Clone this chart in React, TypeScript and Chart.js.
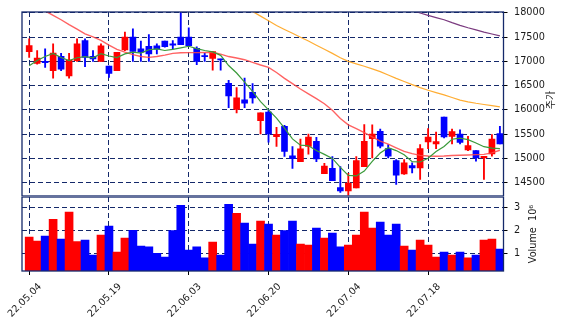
import React, { useEffect, useRef } from "react";
import { Chart, registerables } from "chart.js";
Chart.register(...registerables);

const dates = [
  "22.05.04", "22.05.06", "22.05.09", "22.05.10", "22.05.11", "22.05.12", "22.05.13", "22.05.16", "22.05.17", "22.05.18",
  "22.05.19", "22.05.20", "22.05.23", "22.05.24", "22.05.25", "22.05.26", "22.05.27", "22.05.30", "22.05.31", "22.06.02",
  "22.06.03", "22.06.07", "22.06.08", "22.06.09", "22.06.10", "22.06.13", "22.06.14", "22.06.15", "22.06.16", "22.06.17",
  "22.06.20", "22.06.21", "22.06.22", "22.06.23", "22.06.24", "22.06.27", "22.06.28", "22.06.29", "22.06.30", "22.07.01",
  "22.07.04", "22.07.05", "22.07.06", "22.07.07", "22.07.08", "22.07.11", "22.07.12", "22.07.13", "22.07.14", "22.07.15",
  "22.07.18", "22.07.19", "22.07.20", "22.07.21", "22.07.22", "22.07.25", "22.07.26", "22.07.27", "22.07.28", "22.07.29",
];

const opens = [
  17201, 16958, 17000, 16806, 17104, 16701, 17014, 17431, 17104, 17000,
  16903, 16806, 17236, 17500, 17257, 17313, 17319, 17417, 17361, 17500,
  17500, 17271, 17118, 17063, 17050, 16549, 16007, 16208, 16361, 15778,
  15951, 15444, 15660, 15049, 14931, 15243, 15347, 14681, 14792, 14396,
  14326, 14389, 14826, 15404, 15555, 15199, 14952, 14678, 14849, 14801,
  15336, 15295, 15849, 15452, 15500, 15171, 15158, 15007, 15089, 15507,
];
const highs = [
  17465, 17222, 17257, 17361, 17167, 17167, 17465, 17465, 17222, 17361,
  16903, 17188, 17604, 17674, 17417, 17556, 17361, 17417, 17431, 18100,
  17694, 17300, 17174, 17201, 17050, 16611, 16458, 16653, 16542, 15938,
  16007, 15639, 15681, 15243, 15396, 15500, 15431, 14896, 15035, 14826,
  14688, 15035, 15694, 15692, 15603, 15281, 14973, 14973, 14904, 15281,
  15610, 15541, 15849, 15603, 15589, 15452, 15158, 15041, 15486, 15658,
];
const lows = [
  17083, 16944, 16875, 16653, 16806, 16653, 17000, 16889, 17000, 17000,
  16667, 16806, 17222, 17000, 17000, 17000, 17153, 17292, 17257, 17347,
  17326, 16930, 17000, 16819, 16819, 16042, 15938, 16042, 16139, 15500,
  15333, 15243, 15035, 14792, 14931, 15083, 14931, 14681, 14535, 14292,
  14236, 14389, 14826, 15007, 15212, 15007, 14459, 14664, 14699, 14562,
  15199, 15199, 15418, 15295, 15295, 15158, 14938, 14562, 15041, 15295,
];
const closes = [
  17326, 17069, 16972, 17174, 16840, 17028, 17361, 17083, 17049, 17319,
  16750, 17188, 17500, 17208, 17188, 17153, 17250, 17306, 17333, 17347,
  17326, 17000, 17097, 17201, 17030, 16285, 16250, 16139, 16243, 15938,
  15500, 15493, 15139, 14993, 15194, 15437, 14986, 14840, 14535, 14326,
  14486, 14951, 15347, 15500, 15247, 15041, 14651, 14904, 14801, 15199,
  15438, 15343, 15438, 15548, 15329, 15260, 15007, 15041, 15397, 15295,
];
// volume in millions
const volumes = [
  1.71, 1.54, 1.75, 2.49, 1.62, 2.8, 1.51, 1.58, 0.93, 1.8,
  2.19, 1.06, 1.67, 2.01, 1.32, 1.28, 1.0, 0.84, 1.99, 3.1,
  1.14, 1.28, 0.8, 1.49, 0.93, 3.14, 2.75, 2.32, 1.41, 2.41,
  2.28, 1.8, 1.99, 2.41, 1.41, 1.36, 2.1, 1.67, 1.88, 1.28,
  1.36, 1.8, 2.8, 2.1, 2.36, 1.8, 2.28, 1.32, 1.14, 1.58,
  1.36, 0.84, 1.06, 0.93, 1.06, 0.8, 0.93, 1.58, 1.62, 1.19,
];
const ma5 = [
  16910, 17020, 17100, 17165, 17080, 17017, 17075, 17097, 17075, 17160,
  17112, 17080, 17155, 17190, 17170, 17240, 17258, 17225, 17250, 17280,
  17312, 17265, 17225, 17195, 17125, 16915, 16760, 16570, 16380, 16170,
  16000, 15830, 15620, 15400, 15270, 15258, 15160, 15080, 14995, 14810,
  14645, 14635, 14735, 14935, 15108, 15216, 15158, 15070, 14930, 14922,
  15000, 15138, 15244, 15392, 15417, 15385, 15316, 15238, 15208, 15200,
];
const ma20 = [
  18220, 18130, 18042, 17951, 17860, 17760, 17665, 17570, 17505, 17435,
  17335, 17250, 17190, 17139, 17100, 17084, 17100, 17130, 17165, 17178,
  17182, 17182, 17185, 17188, 17150, 17100, 17070, 17035, 16980, 16925,
  16875, 16770, 16650, 16540, 16430, 16330, 16230, 16125, 15990, 15820,
  15690, 15610, 15530, 15440, 15355, 15290, 15215, 15140, 15095, 15060,
  15045, 15040, 15045, 15055, 15062, 15068, 15075, 15080, 15110, 15165,
];
const ma60 = [
  null, null, null, null, null, null, null, null, null, null,
  null, null, null, null, null, null, null, null, null, null,
  null, null, null, null, null, null, 18210, 18120, 18030, 17935,
  17840, 17743, 17660, 17580, 17500, 17420, 17335, 17250, 17165, 17075,
  17000, 16950, 16900, 16845, 16788, 16720, 16650, 16585, 16520, 16459,
  16405, 16355, 16308, 16255, 16200, 16165, 16135, 16110, 16085, 16060,
];
const ma120 = [
  null, null, null, null, null, null, null, null, null, null,
  null, null, null, null, null, null, null, null, null, null,
  null, null, null, null, null, null, null, null, null, null,
  null, null, null, null, null, null, null, null, null, null,
  null, null, null, null, null, null, 18150, 18100, 18050, 18000,
  17950, 17905, 17860, 17800, 17745, 17695, 17650, 17605, 17565, 17528,
];
const priceTicks = [14500, 15000, 15500, 16000, 16500, 17000, 17500, 18000];
const volumeTicks = [1, 2, 3];
const dateTickIdx = [0, 10, 20, 30, 40, 50];

const UP = "#ff0000";
const DOWN = "#0000ff";
const GRID = "#14296a";
const TEXT = "#1a1a1a";
const FONT = "DejaVu Sans";

const X_MIN = -0.9;
const X_MAX = 59.45;
const AXIS_W = 64.5;

const framePlugin = {
  id: "frame",
  afterDraw(chart: any) {
    const { ctx, chartArea: a } = chart;
    ctx.save();
    ctx.strokeStyle = GRID;
    ctx.lineWidth = 1.3;
    ctx.strokeRect(a.left, a.top, a.right - a.left, a.bottom - a.top);
    ctx.restore();
  },
};

function titlePlugin(id: string, text: string, cx: number, cy: number, font: string) {
  return {
    id,
    afterDraw(chart: any) {
      const ctx = chart.ctx;
      ctx.save();
      ctx.translate(cx, cy);
      ctx.rotate(-Math.PI / 2);
      ctx.font = font;
      ctx.fillStyle = TEXT;
      ctx.textAlign = "center";
      ctx.textBaseline = "middle";
      ctx.fillText(text, 0, 0);
      ctx.restore();
    },
  };
}

const fitY = (s: any) => {
  s.width = AXIS_W;
  s.paddingTop = 0;
  s.paddingBottom = 0;
};

export default function App() {
  const priceRef = useRef<HTMLCanvasElement>(null);
  const volRef = useRef<HTMLCanvasElement>(null);

  useEffect(() => {
    const idx = dates.map((_, i) => i);
    const colors = idx.map((i) => (closes[i] >= opens[i] ? UP : DOWN));
    const lineDs = (arr: (number | null)[], color: string, width: number) => ({
      type: "line" as const,
      data: idx.map((i) => ({ x: i, y: arr[i] })),
      borderColor: color,
      borderWidth: width,
      pointRadius: 0,
      tension: 0,
      spanGaps: false,
      clip: 0,
    });

    const tickFont = { family: FONT, size: 9.7 };

    const price = new Chart(priceRef.current as HTMLCanvasElement, {
      type: "bar",
      data: {
        datasets: [
          lineDs(ma5, "#3a9a3a", 1.2),
          lineDs(ma20, "rgba(255,70,70,0.85)", 1.4),
          lineDs(ma60, "#ffad33", 1.2),
          lineDs(ma120, "#7a3a7f", 1.2),
          {
            type: "bar",
            data: idx.map((i) => ({ x: i, y: [opens[i], closes[i]] })),
            backgroundColor: colors,
            barThickness: 6,
            grouped: false,
            minBarLength: 1,
            clip: 0,
          },
          {
            type: "bar",
            data: idx.map((i) => ({ x: i, y: [lows[i], highs[i]] })),
            backgroundColor: colors,
            barThickness: 1.2,
            grouped: false,
            clip: 0,
          },
        ] as any,
      },
      options: {
        responsive: false,
        animation: false,
        devicePixelRatio: 1,
        events: [],
        layout: { padding: { left: 22, top: 12, right: 0, bottom: 0 } },
        plugins: { legend: { display: false }, tooltip: { enabled: false } },
        scales: {
          x: {
            type: "linear",
            min: X_MIN,
            max: X_MAX,
            offset: false,
            afterBuildTicks: (a: any) => {
              a.ticks = dateTickIdx.map((v) => ({ value: v }));
            },
            afterFit: (s: any) => {
              s.height = 0;
              s.paddingLeft = 0;
              s.paddingRight = 0;
            },
            ticks: { display: false },
            grid: { color: GRID, lineWidth: 1, drawTicks: false, offset: false },
            border: { display: false, dash: [5, 3] },
          },
          y: {
            type: "linear",
            position: "right",
            min: 14220,
            max: 18020,
            afterBuildTicks: (a: any) => {
              a.ticks = priceTicks.map((v) => ({ value: v }));
            },
            afterFit: fitY,
            ticks: {
              font: tickFont,
              color: TEXT,
              padding: 6.5,
              callback: (v: any) => String(v),
            },
            grid: { color: GRID, lineWidth: 1, tickLength: 4, tickColor: "#000" },
            border: { display: false, dash: [5, 3] },
          },
        },
      } as any,
      plugins: [framePlugin, titlePlugin("ptitle", "주가", 550, 100, "10px 'Noto Sans CJK KR'")],
    });

    const vol = new Chart(volRef.current as HTMLCanvasElement, {
      type: "bar",
      data: {
        datasets: [
          {
            data: idx.map((i) => ({ x: i, y: volumes[i] })),
            backgroundColor: colors,
            barThickness: 8,
            grouped: false,
            clip: 0,
          },
        ] as any,
      },
      options: {
        responsive: false,
        animation: false,
        devicePixelRatio: 1,
        events: [],
        layout: { padding: { left: 22, top: 1, right: 0, bottom: 0 } },
        plugins: { legend: { display: false }, tooltip: { enabled: false } },
        scales: {
          x: {
            type: "linear",
            min: X_MIN,
            max: X_MAX,
            offset: false,
            afterBuildTicks: (a: any) => {
              a.ticks = dateTickIdx.map((v) => ({ value: v }));
            },
            afterFit: (s: any) => {
              s.height = 57;
              s.paddingLeft = 0;
              s.paddingRight = 0;
            },
            ticks: {
              font: tickFont,
              color: TEXT,
              autoSkip: false,
              minRotation: 45,
              maxRotation: 45,
              labelOffset: 11,
              padding: 6,
              callback: (v: any) => dates[v] ?? "",
            },
            grid: { color: GRID, lineWidth: 1, tickLength: 4, tickColor: "#000", offset: false },
            border: { display: false, dash: [5, 3] },
          },
          y: {
            type: "linear",
            position: "right",
            min: 0.23,
            max: 3.46,
            afterBuildTicks: (a: any) => {
              a.ticks = volumeTicks.map((v) => ({ value: v }));
            },
            afterFit: fitY,
            ticks: {
              font: tickFont,
              color: TEXT,
              padding: 6.5,
              callback: (v: any) => String(v),
            },
            grid: { color: GRID, lineWidth: 1, tickLength: 4, tickColor: "#000" },
            border: { display: false, dash: [5, 3] },
          },
        },
      } as any,
      plugins: [framePlugin, titlePlugin("vtitle", "Volume  10⁶", 533, 38, `9.7px '${FONT}'`)],
    });

    return () => {
      price.destroy();
      vol.destroy();
    };
  }, []);

  return (
    <div style={{ position: "fixed", left: 0, top: 0, width: 568, height: 328, background: "#fff" }}>
      <canvas
        ref={priceRef}
        width={568}
        height={196}
        style={{ position: "absolute", left: 0, top: 0, width: 568, height: 196 }}
      />
      <canvas
        ref={volRef}
        width={568}
        height={132}
        style={{ position: "absolute", left: 0, top: 196, width: 568, height: 132 }}
      />
    </div>
  );
}
